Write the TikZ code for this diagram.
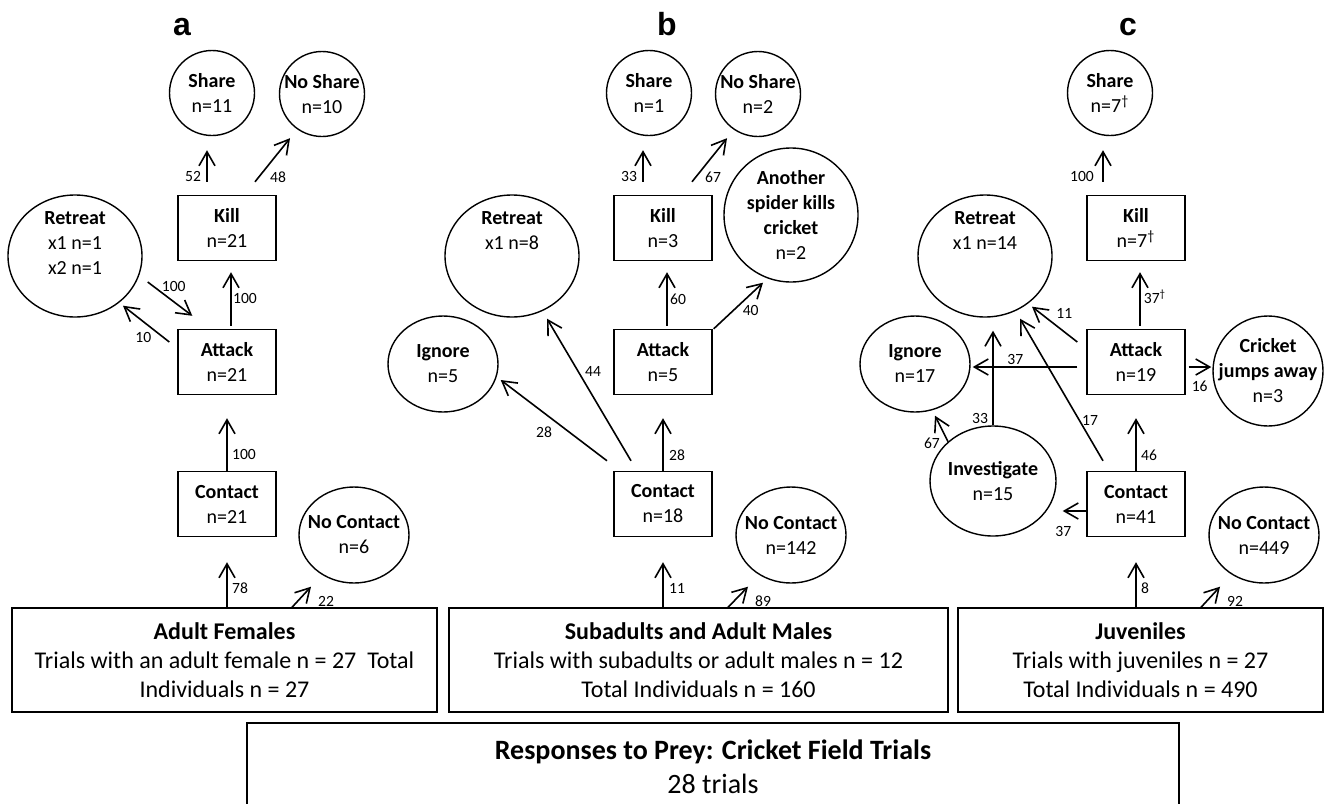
\documentclass[tikz,border=0pt]{standalone}
\usepackage{fontspec}
\setmainfont{Carlito}
\newfontfamily\panelfont{Liberation Sans}
\usetikzlibrary{arrows.meta}
\usetikzlibrary{calc}
\usetikzlibrary{shapes.geometric}
\pgfdeclarelayer{edgelayer}
\pgfdeclarelayer{nodelayer}
\pgfsetlayers{edgelayer,nodelayer,main}
\tikzstyle{act}=[rectangle,draw=black,line width=0.7pt,minimum width=49pt,minimum height=32.5pt,inner sep=0pt,align=center,font=\fontsize{10}{12.5}\selectfont]
\tikzstyle{outcome}=[ellipse,draw=black,line width=0.7pt,inner sep=0pt]
\tikzstyle{txt}=[align=center,inner sep=0pt,font=\fontsize{10}{12.5}\selectfont]
\tikzstyle{group}=[rectangle,draw=black,line width=0.7pt,inner sep=0pt,align=center,font=\fontsize{12}{14.5}\selectfont]
\tikzstyle{panel}=[anchor=base,inner sep=0pt,font=\panelfont\bfseries\fontsize{16}{16}\selectfont]
\tikzstyle{flow}=[-{Straight Barb[length=7pt,width=8pt]},draw=black,line width=0.8pt]
\tikzstyle{num}=[inner sep=0pt,font=\fontsize{7.8}{9}\selectfont]

\begin{document}
\begin{tikzpicture}[x=0.5pt,y=-0.5pt]
	\useasboundingbox (0, 0) rectangle (1326, 803);
	\begin{pgfonlayer}{nodelayer}
		\node [style=panel] (alabel) at (182, 35) {a};
		\node [style=outcome, minimum size=42.5pt, label={[style=txt]center:{\textbf{Share}\\n=11}}] (ashare) at (212, 93) {};
		\node [style=outcome, minimum size=42.5pt, label={[style=txt]center:{\textbf{No Share}\\n=10}}] (anoshare) at (322, 94) {};
		\node [style=act] (akill) at (227, 228) {\textbf{Kill}\\n=21};
		\node [style=outcome, minimum width=67pt, minimum height=61pt, label={[style=txt, anchor=north, yshift=-8.5pt]north:{\textbf{Retreat}\\x1 n=1\\x2 n=1}}] (aretreat) at (75, 256) {};
		\node [style=act] (aattack) at (227, 362) {\textbf{Attack}\\n=21};
		\node [style=act] (acontact) at (227, 504) {\textbf{Contact}\\n=21};
		\node [style=outcome, minimum width=55pt, minimum height=48pt, label={[style=txt]center:{\textbf{No Contact}\\n=6}}] (anocontact) at (354, 535) {};
		\node [style=group, minimum width=212.5pt, minimum height=52pt] (agroup) at (224.5, 660) {\textbf{Adult Females}\\Trials with an adult female n = 27\ \ Total\\Individuals n = 27};

		\node [style=panel] (blabel) at (667, 35) {b};
		\node [style=outcome, minimum size=42.5pt, label={[style=txt]center:{\textbf{Share}\\n=1}}] (bshare) at (649, 93) {};
		\node [style=outcome, minimum size=42.5pt, label={[style=txt]center:{\textbf{No Share}\\n=2}}] (bnoshare) at (758, 94) {};
		\node [style=act] (bkill) at (663, 228) {\textbf{Kill}\\n=3};
		\node [style=outcome, minimum size=67pt, label={[style=txt]center:{\textbf{Another}\\\textbf{spider kills}\\\textbf{cricket}\\n=2}}] (banother) at (791, 215) {};
		\node [style=outcome, minimum width=67pt, minimum height=61pt, label={[style=txt, anchor=north, yshift=-8.5pt]north:{\textbf{Retreat}\\x1 n=8}}] (bretreat) at (512, 256) {};
		\node [style=outcome, minimum width=55pt, minimum height=48pt, label={[style=txt]center:{\textbf{Ignore}\\n=5}}] (bignore) at (443, 364) {};
		\node [style=act] (battack) at (663, 362) {\textbf{Attack}\\n=5};
		\node [style=act] (bcontact) at (663, 504) {\textbf{Contact}\\n=18};
		\node [style=outcome, minimum width=55pt, minimum height=48pt, label={[style=txt]center:{\textbf{No Contact}\\n=142}}] (bnocontact) at (791, 535) {};
		\node [style=group, minimum width=249.5pt, minimum height=52pt] (bgroup) at (698.5, 660) {\textbf{Subadults and Adult Males}\\Trials with subadults or adult males n = 12\\Total Individuals n = 160};

		\node [style=panel] (clabel) at (1128, 35) {c};
		\node [style=outcome, minimum size=42.5pt, label={[style=txt]center:{\textbf{Share}\\n=7\textsuperscript{†}}}] (cshare) at (1110, 93) {};
		\node [style=act] (ckill) at (1136, 228) {\textbf{Kill}\\n=7\textsuperscript{†}};
		\node [style=outcome, minimum width=67pt, minimum height=61pt, label={[style=txt, anchor=north, yshift=-8.5pt]north:{\textbf{Retreat}\\x1 n=14}}] (cretreat) at (985, 256) {};
		\node [style=outcome, minimum width=55pt, minimum height=48pt, label={[style=txt]center:{\textbf{Ignore}\\n=17}}] (cignore) at (915, 364) {};
		\node [style=act] (cattack) at (1136, 362) {\textbf{Attack}\\n=19};
		\node [style=outcome, minimum size=55pt, label={[style=txt]center:{\textbf{Cricket}\\\textbf{jumps away}\\n=3}}] (cjumps) at (1268, 371) {};
		\node [style=outcome, minimum width=63pt, minimum height=55pt, label={[style=txt]center:{\textbf{Investigate}\\n=15}}] (cinvestigate) at (993, 481) {};
		\node [style=act] (ccontact) at (1136, 504) {\textbf{Contact}\\n=41};
		\node [style=outcome, minimum width=55pt, minimum height=48pt, label={[style=txt]center:{\textbf{No Contact}\\n=449}}] (cnocontact) at (1264, 535) {};
		\node [style=group, minimum width=182.5pt, minimum height=52pt] (cgroup) at (1140.5, 660) {\textbf{Juveniles}\\Trials with juveniles n = 27\\Total Individuals n = 490};

		\node [style=group, minimum width=466pt, minimum height=44pt, font=\fontsize{14}{17}\selectfont] (field) at (713, 767) {\textbf{Responses to Prey: Cricket Field Trials}\\28 trials};
	\end{pgfonlayer}
	\begin{pgfonlayer}{edgelayer}
		\draw [style=flow] ($(akill.north)+(-20,-13)$) node[style=num, xshift=-7pt, yshift=2.5pt]{52} -- ($(ashare.south)+(-5,14)$);
		\draw [style=flow] ($(akill.north)+(28,-13)$) node[style=num, xshift=11.5pt, yshift=2.5pt]{48} -- ($(anoshare.south)+(-32,1)$);
		\draw [style=flow] ($(aattack.north)+(4,-3)$) node[style=num, xshift=7pt, yshift=13.5pt]{100} -- ($(akill.south)+(4,11)$);
		\draw [style=flow] ($(aretreat.east)+(5,26)$) node[style=num, xshift=13pt, yshift=-2pt]{100} -- ($(aattack.north west)+(15,-13)$);
		\draw [style=flow] ($(aattack.west)+(-8,-20)$) node[style=num, xshift=-13pt, yshift=2.5pt]{10} -- ($(aretreat.south)+(48,-12)$);
		\draw [style=flow] (acontact.north) node[style=num, xshift=8.5pt, yshift=8pt]{100} -- ($(aattack.south)+(0,23)$);
		\draw [style=flow] (agroup.north -| acontact.north) node[style=num, xshift=6.5pt, yshift=9.5pt]{78} -- ($(acontact.south)+(0,25)$);
		\draw [style=flow] ($(agroup.north)+(67.5,0)$) node[style=num, xshift=17pt, yshift=3pt]{22} -- ($(anocontact.south)+(-43,3)$);

		\draw [style=flow] ($(bkill.north)+(-20,-13)$) node[style=num, xshift=-7pt, yshift=2.5pt]{33} -- ($(bshare.south)+(-6,14)$);
		\draw [style=flow] ($(bkill.north)+(29,-13)$) node[style=num, xshift=10.5pt, yshift=2.5pt]{67} -- ($(bnoshare.south)+(-31,1)$);
		\draw [style=flow] ($(battack.north)+(4,-3)$) node[style=num, xshift=5.5pt, yshift=13.5pt]{60} -- ($(bkill.south)+(4,11)$);
		\draw [style=flow] ($(battack.north east)+(1,0)$) node[style=num, xshift=18.5pt, yshift=9pt]{40} -- ($(banother.south)+(-28,0)$);
		\draw [style=flow] ($(bcontact.north)+(-32,-10)$) node[style=num, xshift=-19pt, yshift=44.5pt]{44} -- ($(bretreat.south)+(35,1)$);
		\draw [style=flow] ($(bcontact.north)+(-56,-10)$) node[style=num, xshift=-31.5pt, yshift=14.5pt]{28} -- ($(bignore.east)+(2,16)$);
		\draw [style=flow] (bcontact.north) node[style=num, xshift=7pt, yshift=8pt]{28} -- ($(battack.south)+(0,23)$);
		\draw [style=flow] (bgroup.north -| bcontact.north) node[style=num, xshift=7pt, yshift=9.5pt]{11} -- ($(bcontact.south)+(0,25)$);
		\draw [style=flow] ($(bgroup.north)+(29.5,0)$) node[style=num, xshift=17.5pt, yshift=3pt]{89} -- ($(bnocontact.south)+(-43,3)$);

		\draw [style=flow] ($(ckill.north)+(-33,-13)$) node[style=num, xshift=-10.5pt, yshift=2.5pt]{100} -- ($(cshare.south)+(-7,14)$);
		\draw [style=flow] ($(cattack.north)+(4,-3)$) node[style=num, xshift=7.5pt, yshift=14.5pt]{37\textsuperscript{†}} -- ($(ckill.south)+(4,11)$);
		\draw [style=flow] ($(cattack.west)+(-9,-20)$) node[style=num, xshift=-6.5pt, yshift=14.5pt]{11} -- ($(cretreat.south)+(47,-11)$);
		\draw [style=flow] ($(cattack.west)+(-9,5)$) node[style=num, xshift=-31pt, yshift=4pt]{37} -- ($(cignore.east)+(2,3)$);
		\draw [style=flow] ($(cattack.east)+(3,5)$) node[style=num, xshift=5.5pt, yshift=-9.5pt]{16} -- ($(cjumps.west)+(-1,-4)$);
		\draw [style=flow] (cinvestigate.north) node[style=num, xshift=-6.5pt, yshift=3.5pt]{33} -- ($(cretreat.south)+(8,13)$);
		\draw [style=flow] (cinvestigate.north west) node[style=num, xshift=-8pt, yshift=-1pt]{67} -- ($(cignore.south)+(20,3)$);
		\draw [style=flow] ($(ccontact.north)+(-33,-10)$) node[style=num, xshift=-6.5pt, yshift=20pt]{17} -- ($(cretreat.south)+(35,1)$);
		\draw [style=flow] ($(ccontact.west)+(0,7)$) node[style=num, xshift=-11.5pt, yshift=-10pt]{37} -- ($(cinvestigate.east |- ccontact.west)+(6,7)$);
		\draw [style=flow] (ccontact.north) node[style=num, xshift=6.5pt, yshift=8pt]{46} -- ($(cattack.south)+(0,23)$);
		\draw [style=flow] (cgroup.north -| ccontact.north) node[style=num, xshift=4.5pt, yshift=9.5pt]{8} -- ($(ccontact.south)+(0,25)$);
		\draw [style=flow] ($(cgroup.north)+(60.5,0)$) node[style=num, xshift=17pt, yshift=3pt]{92} -- ($(cnocontact.south)+(-44,3)$);
	\end{pgfonlayer}
\end{tikzpicture}
\end{document}
